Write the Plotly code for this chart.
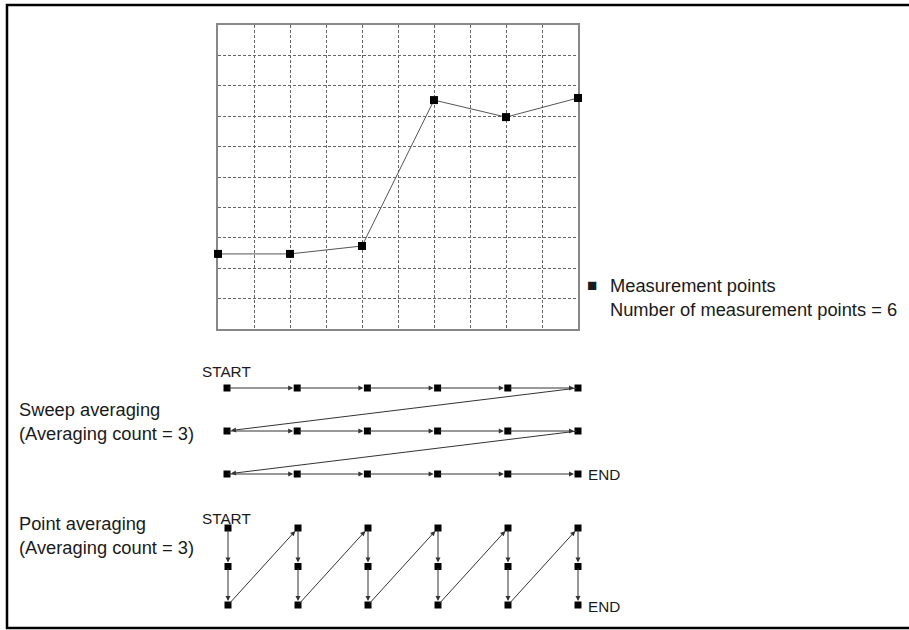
import plotly.graph_objects as go

W, H = 909, 630

# measured trace (grid units, 10 x 10 divisions)
meas_x = [0, 2, 4, 6, 8, 10]
meas_y = [2.47, 2.47, 2.73, 7.53, 6.97, 7.6]

# averaging diagrams
point_no = [1, 2, 3, 4, 5, 6]
avg_count = [1, 2, 3]

FONT = "Liberation Sans, Arial, sans-serif"
INK = "#1a1a1a"


def fx(p):
    return p / W


def fy(p):
    return 1 - p / H


fig = go.Figure()

# top graph
fig.add_trace(go.Scatter(
    x=meas_x, y=meas_y, mode="lines+markers",
    line=dict(color="#555", width=1),
    marker=dict(symbol="square", size=8, color="black"),
    cliponaxis=False, showlegend=False, xaxis="x", yaxis="y",
))

# sweep averaging: go through all points, repeat the sweep
sx, sy = [], []
for r in avg_count:
    for p in point_no:
        sx.append(p)
        sy.append(r)
fig.add_trace(go.Scatter(
    x=sx, y=sy, mode="markers",
    marker=dict(symbol="square", size=7, color="black"),
    cliponaxis=False, showlegend=False, xaxis="x2", yaxis="y2",
))

# point averaging: repeat at each point, then move on
px_, py_ = [], []
for p in point_no:
    for r in avg_count:
        px_.append(p)
        py_.append(r)
fig.add_trace(go.Scatter(
    x=px_, y=py_, mode="markers",
    marker=dict(symbol="square", size=7, color="black"),
    cliponaxis=False, showlegend=False, xaxis="x3", yaxis="y3",
))

anns = []


def arrow(x0, y0, x1, y1, ax_name):
    anns.append(dict(
        x=x1, y=y1, ax=x0, ay=y0,
        xref="x" + ax_name, yref="y" + ax_name,
        axref="x" + ax_name, ayref="y" + ax_name,
        showarrow=True, arrowhead=2, arrowsize=1, arrowwidth=1,
        arrowcolor="#333", standoff=4, text="",
    ))


for r in avg_count:
    for i in range(len(point_no) - 1):
        arrow(point_no[i], r, point_no[i + 1], r, "2")
    if r < avg_count[-1]:
        arrow(point_no[-1], r, point_no[0], r + 1, "2")

for i, p in enumerate(point_no):
    for k in range(len(avg_count) - 1):
        arrow(p, avg_count[k], p, avg_count[k + 1], "3")
    if i < len(point_no) - 1:
        arrow(p, avg_count[-1], point_no[i + 1], avg_count[0], "3")


def label(text, x, y, size):
    anns.append(dict(
        text=text, x=fx(x), y=fy(y), xref="paper", yref="paper",
        xanchor="left", yanchor="middle", align="left", showarrow=False,
        font=dict(family=FONT, size=size, color=INK),
    ))


BIG, SMALL = 18.3, 15.3
label("■", 585, 286, 17)
label("Measurement points<br>Number of measurement points = 6", 608, 297, BIG)

label("START", 200, 371, SMALL)
label("Sweep averaging<br>(Averaging count = 3)", 17, 421, BIG)
label("END", 586, 474, SMALL)

label("START", 200, 518, SMALL)
label("Point averaging<br>(Averaging count = 3)", 17, 535, BIG)
label("END", 586, 606, SMALL)

hidden = dict(visible=False, showgrid=False, zeroline=False)

fig.update_layout(
    width=W, height=H,
    margin=dict(l=0, r=0, t=0, b=0),
    paper_bgcolor="white", plot_bgcolor="white",
    showlegend=False,
    xaxis=dict(
        domain=[fx(218), fx(578)], range=[0, 10], dtick=1, tick0=0,
        showgrid=True, gridcolor="#666", gridwidth=1, griddash="3px,2px",
        showline=True, mirror=True, linecolor="#888", linewidth=1.5,
        showticklabels=False, ticks="", zeroline=False, layer="below traces",
    ),
    yaxis=dict(
        domain=[fy(329), fy(25)], range=[0, 10], dtick=1, tick0=0,
        showgrid=True, gridcolor="#666", gridwidth=1, griddash="3px,2px",
        showline=True, mirror=True, linecolor="#888", linewidth=1.5,
        showticklabels=False, ticks="", zeroline=False, anchor="x",
        layer="below traces",
    ),
    xaxis2=dict(domain=[fx(227), fx(578)], range=[1, 6], anchor="y2", **hidden),
    yaxis2=dict(domain=[fy(474), fy(388)], range=[3, 1], anchor="x2", **hidden),
    xaxis3=dict(domain=[fx(228), fx(578)], range=[1, 6], anchor="y3", **hidden),
    yaxis3=dict(domain=[fy(605), fy(528)], range=[3, 1], anchor="x3", **hidden),
    annotations=anns,
    shapes=[dict(
        type="rect", xref="paper", yref="paper",
        x0=fx(7), x1=fx(925), y0=fy(628), y1=fy(5),
        line=dict(color="black", width=2.5),
    )],
)

# drop the page's default body margin so the figure sits at the top-left corner
fig.write_html(
    "out.html",
    config={"displayModeBar": False},
    post_script="document.body.style.margin = '0';",
)
